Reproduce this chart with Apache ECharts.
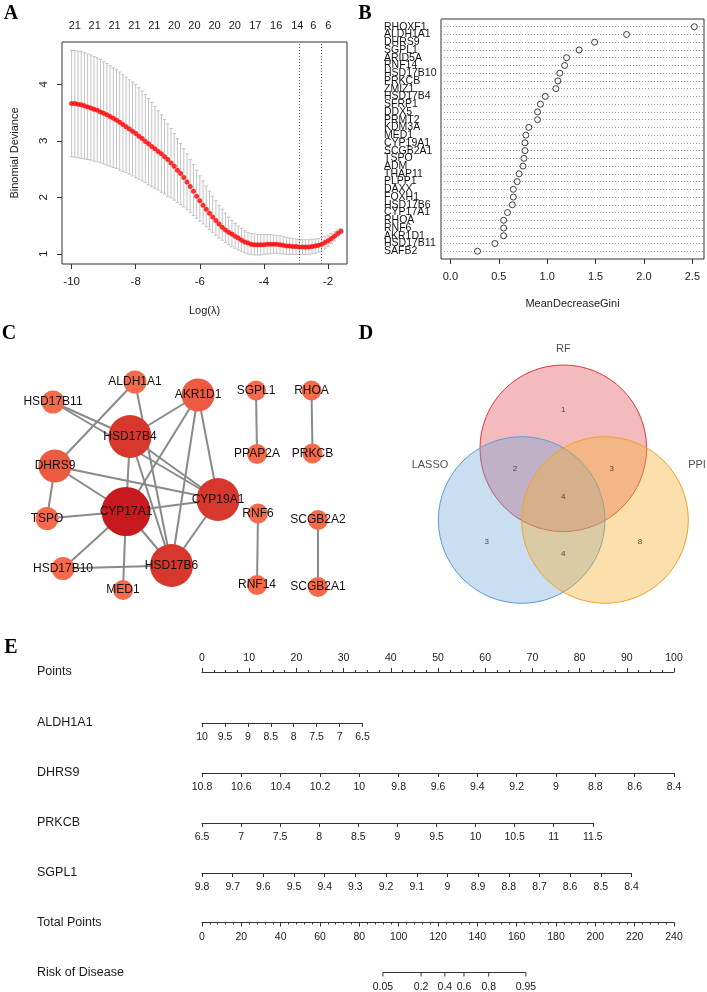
<!DOCTYPE html>
<html>
<head>
<meta charset="utf-8">
<script src="https://cdn.jsdelivr.net/npm/echarts@6/dist/echarts.min.js"></script>
<style>
html,body{margin:0;padding:0;background:#fff;}
#main{width:707px;height:992px;}
</style>
</head>
<body>
<div id="main"></div>
<script>
// ---------- A: LASSO cross-validation ----------
var lambdaLog = [-10.0,-9.9,-9.8,-9.7,-9.6,-9.5,-9.4,-9.3,-9.2,-9.1,
  -9.0,-8.9,-8.8,-8.7,-8.6,-8.5,-8.4,-8.3,-8.2,-8.1,
  -8.0,-7.9,-7.8,-7.7,-7.6,-7.5,-7.4,-7.3,-7.2,-7.1,
  -7.0,-6.9,-6.8,-6.7,-6.6,-6.5,-6.4,-6.3,-6.2,-6.1,
  -6.0,-5.9,-5.8,-5.7,-5.6,-5.5,-5.4,-5.3,-5.2,-5.1,
  -5.0,-4.9,-4.8,-4.7,-4.6,-4.5,-4.4,-4.3,-4.2,-4.1,
  -4.0,-3.9,-3.8,-3.7,-3.6,-3.5,-3.4,-3.3,-3.2,-3.1,
  -3.0,-2.9,-2.8,-2.7,-2.6,-2.5,-2.4,-2.3,-2.2,-2.1,
  -2.0,-1.9,-1.8,-1.7,-1.6];
var cvMean = [3.66,3.66,3.65,3.64,3.62,3.60,3.58,3.56,3.54,3.51,
  3.49,3.46,3.43,3.40,3.37,3.33,3.29,3.25,3.21,3.17,
  3.13,3.08,3.04,2.99,2.95,2.90,2.86,2.81,2.77,2.72,
  2.67,2.61,2.55,2.48,2.42,2.35,2.27,2.19,2.11,2.02,
  1.94,1.86,1.79,1.72,1.65,1.59,1.53,1.47,1.42,1.38,
  1.35,1.31,1.28,1.24,1.21,1.19,1.17,1.16,1.16,1.16,
  1.16,1.17,1.17,1.17,1.17,1.16,1.15,1.14,1.14,1.13,
  1.13,1.12,1.12,1.12,1.12,1.13,1.14,1.15,1.17,1.20,
  1.23,1.27,1.31,1.36,1.40];
var cvUpper = [4.60,4.60,4.59,4.58,4.56,4.54,4.52,4.49,4.47,4.44,
  4.40,4.37,4.33,4.29,4.26,4.22,4.17,4.13,4.08,4.04,
  4.00,3.94,3.88,3.82,3.75,3.68,3.61,3.53,3.46,3.38,
  3.30,3.22,3.13,3.04,2.95,2.86,2.77,2.67,2.58,2.48,
  2.38,2.29,2.20,2.11,2.02,1.94,1.86,1.79,1.72,1.65,
  1.59,1.54,1.49,1.45,1.41,1.38,1.36,1.35,1.34,1.34,
  1.34,1.34,1.34,1.33,1.33,1.32,1.31,1.29,1.28,1.27,
  1.26,1.25,1.25,1.25,1.25,1.26,1.26,1.27,1.29,1.31,
  1.33,1.36,1.39,1.42,1.45];
var cvLower = [2.72,2.71,2.70,2.69,2.68,2.67,2.66,2.64,2.63,2.61,
  2.59,2.57,2.55,2.53,2.51,2.48,2.46,2.44,2.41,2.38,
  2.35,2.32,2.29,2.26,2.22,2.19,2.16,2.13,2.09,2.06,
  2.02,1.99,1.95,1.91,1.87,1.83,1.78,1.73,1.68,1.63,
  1.58,1.53,1.48,1.43,1.38,1.33,1.28,1.24,1.20,1.16,
  1.13,1.10,1.07,1.04,1.02,1.00,0.99,0.98,0.98,0.98,
  0.99,1.00,1.00,1.01,1.01,1.00,1.00,0.99,0.99,0.99,
  0.99,0.99,0.99,0.99,0.99,1.00,1.01,1.03,1.05,1.09,
  1.13,1.18,1.23,1.30,1.35];
var nzeroPos = [-9.9,-9.28,-8.66,-8.04,-7.42,-6.8,-6.17,-5.54,-4.91,-4.27,-3.62,-2.96,-2.46,-1.99];
var nzeroNum = [21,21,21,21,21,20,20,20,20,17,16,14,6,6];
var lambdaMin = -2.9, lambda1se = -2.2;

// ---------- B: random forest importance ----------
var rfGenes = ['RHOXF1','ALDH1A1','DHRS9','SGPL1','ARID5A','RNF14','HSD17B10','PRKCB','ZMIZ1','HSD17B4',
  'SFRP1','DDX5','PRMT2','KDM3A','MED1','CYP19A1','SCGB2A1','TSPO','ADM','THAP11',
  'PLPP1','DAXX','FOXH1','HSD17B6','CYP17A1','RHOA','RNF6','AKR1D1','HSD17B11','SAFB2'];
var rfGini = [2.52,1.82,1.49,1.33,1.20,1.18,1.13,1.11,1.09,0.98,
  0.93,0.90,0.90,0.81,0.78,0.77,0.77,0.76,0.75,0.71,
  0.69,0.65,0.65,0.64,0.59,0.55,0.55,0.55,0.46,0.28];

// ---------- C: PPI network ----------
var ppiNodes = ['ALDH1A1','HSD17B11','AKR1D1','HSD17B4','DHRS9','CYP17A1','CYP19A1','TSPO','HSD17B6',
  'HSD17B10','MED1','SGPL1','PPAP2A','RHOA','PRKCB','RNF6','RNF14','SCGB2A2','SCGB2A1'];
var ppiEdges = [['HSD17B11','HSD17B4'],['HSD17B11','CYP19A1'],['ALDH1A1','DHRS9'],['ALDH1A1','HSD17B6'],
  ['AKR1D1','HSD17B4'],['AKR1D1','CYP17A1'],['AKR1D1','HSD17B6'],['AKR1D1','CYP19A1'],
  ['HSD17B4','CYP17A1'],['HSD17B4','CYP19A1'],['HSD17B4','HSD17B6'],
  ['DHRS9','CYP19A1'],['DHRS9','CYP17A1'],['DHRS9','TSPO'],['TSPO','CYP17A1'],
  ['CYP17A1','CYP19A1'],['CYP17A1','HSD17B6'],['CYP17A1','HSD17B10'],['CYP17A1','MED1'],
  ['HSD17B10','HSD17B6'],['CYP19A1','HSD17B6'],
  ['SGPL1','PPAP2A'],['RHOA','PRKCB'],['RNF6','RNF14'],['SCGB2A2','SCGB2A1']];
// layout of the network drawing (page pixels)
var ppiLayout = {
  ALDH1A1:[135,382], HSD17B11:[53,402], AKR1D1:[198,395], HSD17B4:[130,436.5],
  DHRS9:[55,466], CYP17A1:[126,511.5], CYP19A1:[218,499.5], TSPO:[47,518.5],
  HSD17B6:[171.5,565.5], HSD17B10:[63,568.5], MED1:[123,590],
  SGPL1:[256,390.5], PPAP2A:[257,454], RHOA:[311.5,390.5], PRKCB:[312.5,453.5],
  RNF6:[258,513.5], RNF14:[257,585], SCGB2A2:[318,520], SCGB2A1:[318,587]
};

// ---------- D: Venn ----------
var vennSets = ['RF','LASSO','PPI'];
var vennRegions = ['RF','RF&LASSO','RF&PPI','RF&LASSO&PPI','LASSO','LASSO&PPI','PPI'];
var vennCounts = [1,2,3,4,3,4,8];
var vennCircleXY = [[563.3,448.3],[521.7,520],[605,520]];
var vennRadius = 83.3;
var vennSetLabelXY = [[563.3,348.5],[430,465],[697,465]];
var vennRegionXY = [[563.3,410],[515,468.5],[611.7,468.5],[563.3,497],[486.7,541.7],[563.3,553.3],[640,541.7]];

// ---------- E: nomogram ----------
var nomoVars = ['ALDH1A1','DHRS9','PRKCB','SGPL1'];
var nomoFrom = [10, 10.8, 6.5, 9.8];
var nomoTo = [6.5, 8.4, 11.5, 8.4];
var nomoStep = [0.5, 0.2, 0.5, 0.1];
var nomoMaxPts = [34, 100, 82.8, 91];
var totalPtsMax = 240;
var riskTicks = ['0.05','0.2','0.4','0.6','0.8','0.95'];
var riskTicksPts = [92.0, 111.4, 123.5, 133.2, 145.8, 164.7];

var FONT = '"Liberation Sans", Arial, sans-serif';
var TXT = '#1a1a1a', AX = '#333';

var chart = echarts.init(document.getElementById('main'));

// node degree -> size/colour
var degree = {};
ppiNodes.forEach(function(n){ degree[n] = 0; });
ppiEdges.forEach(function(e){ degree[e[0]]++; degree[e[1]]++; });
function nodeSize(d){ return d >= 8 ? 49 : d >= 5 ? 43 : d >= 3 ? 33 : d == 2 ? 23 : 20; }
function nodeColor(d){ return d >= 8 ? '#C8191E' : d >= 5 ? '#D8372D' : d >= 3 ? '#EC5A42' : '#F46A4B'; }

var grids = [
  {left:62, top:42, width:285, height:222, show:true, borderColor:AX, borderWidth:1, backgroundColor:'transparent'},
  {left:441, top:19, width:263, height:240, show:true, borderColor:AX, borderWidth:1, backgroundColor:'transparent'},
  {left:0, top:300, width:330, height:300},
  {left:330, top:300, width:377, height:300}
];
var xAxes = [
  {gridIndex:0, type:'value', min:-10.3, max:-1.41, axisLine:{show:false}, splitLine:{show:false},
    axisTick:{length:5, lineStyle:{color:AX}, customValues:[-10,-8,-6,-4,-2]},
    axisLabel:{customValues:[-10,-8,-6,-4,-2], margin:12, fontSize:11.5, color:TXT, fontFamily:FONT},
    name:'Log(\u03bb)', nameLocation:'middle', nameGap:41, nameTextStyle:{fontSize:11, color:TXT, fontFamily:FONT}},
  {gridIndex:0, type:'value', position:'top', min:-10.3, max:-1.41, axisLine:{show:false}, splitLine:{show:false},
    axisTick:{show:false},
    axisLabel:{customValues:nzeroPos, margin:11, fontSize:11, color:TXT, fontFamily:FONT,
      formatter:function(v){ var i = nzeroPos.indexOf(v); return i >= 0 ? String(nzeroNum[i]) : ''; }}},
  {gridIndex:1, type:'value', min:-0.097, max:2.62, axisLine:{show:false}, splitLine:{show:false},
    axisTick:{length:5, lineStyle:{color:AX}, customValues:[0,0.5,1,1.5,2,2.5]},
    axisLabel:{customValues:[0,0.5,1,1.5,2,2.5], margin:12, fontSize:11, color:TXT, fontFamily:FONT,
      formatter:function(v){ return v.toFixed(1); }},
    name:'MeanDecreaseGini', nameLocation:'middle', nameGap:39, nameTextStyle:{fontSize:11, color:TXT, fontFamily:FONT}},
  {gridIndex:2, type:'value', min:0, max:330, show:false},
  {gridIndex:3, type:'value', min:330, max:707, show:false}
];
var yAxes = [
  {gridIndex:0, type:'value', min:0.82, max:4.75, axisLine:{show:false}, splitLine:{show:false},
    axisTick:{length:5, lineStyle:{color:AX}, customValues:[1,2,3,4]},
    axisLabel:{customValues:[1,2,3,4], rotate:90, margin:12, fontSize:11.5, color:TXT, fontFamily:FONT},
    name:'Binomial Deviance', nameLocation:'middle', nameGap:42, nameTextStyle:{fontSize:11, color:TXT, fontFamily:FONT}},
  {gridIndex:1, type:'value', min:0, max:31, interval:1, axisLine:{show:false}, axisTick:{show:false},
    splitLine:{show:true, lineStyle:{type:[1,2], color:'#9a9a9a', width:1}},
    axisLabel:{align:'left', margin:57, fontSize:10.5, lineHeight:9, color:'#111', fontFamily:FONT,
      formatter:function(v){ return (v >= 1 && v <= 30) ? rfGenes[30 - v] : ''; }}},
  {gridIndex:2, type:'value', min:300, max:600, inverse:true, show:false},
  {gridIndex:3, type:'value', min:300, max:600, inverse:true, show:false}
];

// nomogram rows
var nomoLeft = 202, nomoWidth = 472;
var rowY = [672, 723, 773, 823, 873, 922.5, 972.5];
var rowNames = ['Points'].concat(nomoVars).concat(['Total Points','Risk of Disease']);
var tickLbl = {fontSize:10.5, color:TXT, fontFamily:FONT};

function addRow(gridCfg, axisCfg){
  var gi = grids.length;
  grids.push(gridCfg);
  axisCfg.gridIndex = gi;
  xAxes.push(axisCfg);
  yAxes.push({gridIndex:gi, type:'value', min:0, max:1, show:false});
  return gi;
}
// Points
addRow({left:nomoLeft, width:nomoWidth, top:rowY[0], height:20},
  {type:'value', position:'top', min:0, max:100, interval:10,
   axisLine:{onZero:false, lineStyle:{color:AX, width:1}}, axisTick:{length:4, lineStyle:{color:AX}},
   minorTick:{show:true, splitNumber:4, length:2, lineStyle:{color:AX}},
   splitLine:{show:false}, axisLabel:Object.assign({margin:8}, tickLbl)});
// variables
nomoVars.forEach(function(v, i){
  var lo = Math.min(nomoFrom[i], nomoTo[i]), hi = Math.max(nomoFrom[i], nomoTo[i]);
  addRow({left:nomoLeft, width:nomoWidth * nomoMaxPts[i] / 100, top:rowY[i+1] - 20, height:20},
    {type:'value', position:'bottom', min:lo, max:hi, interval:nomoStep[i], inverse:nomoFrom[i] > nomoTo[i],
     axisLine:{onZero:false, lineStyle:{color:AX, width:1}}, axisTick:{length:4, lineStyle:{color:AX}},
     splitLine:{show:false}, axisLabel:Object.assign({margin:9, showMinLabel:true, showMaxLabel:true}, tickLbl)});
});
// Total points
addRow({left:nomoLeft, width:nomoWidth, top:rowY[5] - 20, height:20},
  {type:'value', position:'bottom', min:0, max:totalPtsMax, interval:20,
   axisLine:{onZero:false, lineStyle:{color:AX, width:1}}, axisTick:{length:4, lineStyle:{color:AX}},
   minorTick:{show:true, splitNumber:5, length:2, lineStyle:{color:AX}},
   splitLine:{show:false}, axisLabel:Object.assign({margin:9}, tickLbl)});
// Risk (total points scale, hidden axis)
addRow({left:nomoLeft, width:nomoWidth, top:rowY[6] - 20, height:20},
  {type:'value', min:0, max:totalPtsMax, show:false});
var riskX = xAxes.length - 1, riskY = yAxes.length - 1;

// text labels
var graphics = [];
[['A',11,14],['B',365,14],['C',9,334],['D',366,334],['E',11,648]].forEach(function(p){
  graphics.push({type:'text', style:{x:p[1], y:p[2], text:p[0], font:'bold 20px "Liberation Serif", "Times New Roman", serif',
    fill:'#000', align:'center', verticalAlign:'middle'}});
});
rowNames.forEach(function(n, i){
  graphics.push({type:'text', style:{x:37, y:rowY[i], text:n, font:'12.5px ' + FONT, fill:TXT, align:'left', verticalAlign:'middle'}});
});

// series
var errData = lambdaLog.map(function(x, i){ return [x, cvLower[i], cvUpper[i]]; });
var meanData = lambdaLog.map(function(x, i){ return [x, cvMean[i]]; });
var rfData = rfGini.map(function(g, i){ return [g, 30 - i]; });

var nodeData = ppiNodes.map(function(n){
  var d = degree[n];
  return {name:n, value:ppiLayout[n], symbolSize:nodeSize(d), itemStyle:{color:nodeColor(d)}};
});
var linkData = ppiEdges.map(function(e){ return {source:e[0], target:e[1]}; });

var vennFill = ['rgba(220,60,70,0.35)','rgba(100,160,215,0.35)','rgba(245,175,50,0.4)'];
var vennStroke = ['#D63A42','#5B9BD5','#EFA22E'];
var vennData = vennCircleXY.map(function(c){ return [c[0], c[1], vennRadius]; });

var series = [
  {type:'custom', xAxisIndex:0, yAxisIndex:0, data:errData, silent:true, z:2,
   renderItem:function(params, api){
     var a = api.coord([api.value(0), api.value(1)]);
     var b = api.coord([api.value(0), api.value(2)]);
     var w = 1.7, st = {stroke:'#c2c2c2', lineWidth:1};
     return {type:'group', children:[
       {type:'line', shape:{x1:a[0], y1:a[1], x2:b[0], y2:b[1]}, style:st},
       {type:'line', shape:{x1:a[0]-w, y1:a[1], x2:a[0]+w, y2:a[1]}, style:st},
       {type:'line', shape:{x1:b[0]-w, y1:b[1], x2:b[0]+w, y2:b[1]}, style:st}
     ]};
   }},
  {type:'scatter', xAxisIndex:0, yAxisIndex:0, data:meanData, symbolSize:5, silent:true, z:3,
   itemStyle:{color:'#ff0000'},
   markLine:{symbol:'none', silent:true, label:{show:false},
     lineStyle:{type:[1,2], color:'#555', width:1},
     data:[{xAxis:lambdaMin},{xAxis:lambda1se}]}},
  {type:'scatter', xAxisIndex:2, yAxisIndex:1, data:rfData, symbol:'circle', symbolSize:6, silent:true, z:4,
   itemStyle:{color:'#ffffff', borderColor:'#111', borderWidth:1}},
  {type:'graph', coordinateSystem:'cartesian2d', xAxisIndex:3, yAxisIndex:2, layout:'none', silent:true,
   data:nodeData, links:linkData,
   lineStyle:{color:'#8a8a8a', width:2, opacity:1, curveness:0},
   label:{show:true, position:'inside', fontSize:12, color:'#111', fontFamily:FONT},
   emphasis:{disabled:true}},
  {type:'custom', xAxisIndex:4, yAxisIndex:3, data:vennData, silent:true,
   renderItem:function(params, api){
     var c = api.coord([api.value(0), api.value(1)]);
     var r = api.size([api.value(2), 0])[0];
     var k = params.dataIndex;
     return {type:'circle', shape:{cx:c[0], cy:c[1], r:r}, style:{fill:vennFill[k], stroke:vennStroke[k], lineWidth:1}};
   }},
  {type:'scatter', xAxisIndex:4, yAxisIndex:3, symbolSize:0, silent:true, z:5,
   data:vennRegionXY.map(function(p, i){ return {value:p, label:{formatter:String(vennCounts[i])}}; }),
   label:{show:true, position:'inside', fontSize:8, color:'#222', fontFamily:FONT}},
  {type:'scatter', xAxisIndex:4, yAxisIndex:3, symbolSize:0, silent:true, z:5,
   data:vennSetLabelXY.map(function(p, i){ return {value:p, label:{formatter:vennSets[i]}}; }),
   label:{show:true, position:'inside', fontSize:11, color:'#222', fontFamily:FONT}},
  {type:'line', xAxisIndex:riskX, yAxisIndex:riskY, data:[[riskTicksPts[0],0],[riskTicksPts[riskTicksPts.length-1],0]],
   symbol:'none', silent:true, lineStyle:{color:AX, width:1}},
  {type:'custom', xAxisIndex:riskX, yAxisIndex:riskY, data:riskTicksPts.map(function(p){ return [p, 0]; }), silent:true,
   renderItem:function(params, api){
     var p = api.coord([api.value(0), 0]);
     return {type:'group', children:[
       {type:'line', shape:{x1:p[0], y1:p[1], x2:p[0], y2:p[1]+4}, style:{stroke:AX, lineWidth:1}},
       {type:'text', style:{x:p[0], y:p[1]+9, text:riskTicks[params.dataIndex], fill:TXT,
         font:'10.5px ' + FONT, align:'center', verticalAlign:'top'}}
     ]};
   }}
];

chart.setOption({
  animation:false,
  backgroundColor:'#fff',
  grid:grids,
  xAxis:xAxes,
  yAxis:yAxes,
  graphic:graphics,
  series:series
});
</script>
</body>
</html>
